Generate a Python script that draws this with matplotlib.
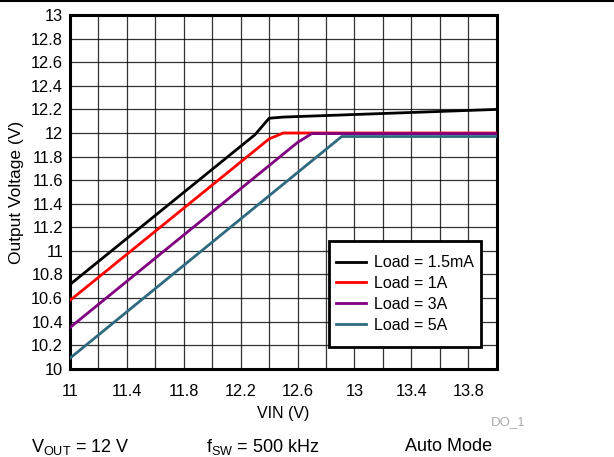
import matplotlib
matplotlib.use("Agg")
import matplotlib.pyplot as plt
from matplotlib.lines import Line2D
from matplotlib.patches import Rectangle

plt.rcParams['font.family'] = ['Liberation Sans', 'DejaVu Sans']

vin_15mA = [11.0, 12.3, 12.4, 12.5, 14.0]
vout_15mA = [10.715, 11.985, 12.125, 12.135, 12.20]
vin_1A = [11.0, 12.4, 12.5, 14.0]
vout_1A = [10.58, 11.95, 12.0, 12.0]
vin_3A = [11.0, 12.6, 12.7, 14.0]
vout_3A = [10.35, 11.92, 11.995, 11.995]
vin_5A = [11.0, 12.91, 14.0]
vout_5A = [10.09, 11.97, 11.97]

labels = ['Load = 1.5mA', 'Load = 1A', 'Load = 3A', 'Load = 5A']
colors = ['#000000', '#ff0000', '#800080', '#2e6a80']

xticks = [11, 11.4, 11.8, 12.2, 12.6, 13, 13.4, 13.8]
xtick_labels = ['11', '11.4', '11.8', '12.2', '12.6', '13', '13.4', '13.8']
yticks = [10, 10.2, 10.4, 10.6, 10.8, 11, 11.2, 11.4, 11.6, 11.8, 12, 12.2, 12.4, 12.6, 12.8, 13]
ytick_labels = ['10', '10.2', '10.4', '10.6', '10.8', '11', '11.2', '11.4', '11.6', '11.8', '12', '12.2', '12.4', '12.6', '12.8', '13']

fig = plt.figure(figsize=(6.14, 4.57), dpi=100)
ax = fig.add_axes([0.114, 0.193, 0.695, 0.774])

series = [(vin_15mA, vout_15mA), (vin_1A, vout_1A), (vin_3A, vout_3A), (vin_5A, vout_5A)]
for (x, y), c, lab in zip(series, colors, labels):
    ax.plot(x, y, color=c, lw=2, label=lab, zorder=3)

fs = 11.8
ax.set_xlim(11, 14)
ax.set_ylim(10, 13)
ax.set_xticks(xticks)
ax.set_xticklabels(xtick_labels)
ax.set_xticks([11.2 + 0.4 * i for i in range(7)], minor=True)
ax.set_yticks(yticks)
ax.set_yticklabels(ytick_labels)
ax.grid(True, which='both', color='#000000', lw=0.9, alpha=0.8)
ax.tick_params(which='both', length=0, labelsize=fs)
ax.tick_params(axis='x', pad=11)
ax.tick_params(axis='y', pad=5)
for s in ax.spines.values():
    s.set_linewidth(2.2)
ax.set_xlabel('VIN (V)', fontsize=11.5, labelpad=5)
ax.set_ylabel('Output Voltage (V)', fontsize=12.5, labelpad=5)

# legend frame drawn as a patch
ax.add_patch(Rectangle((0.6066, 0.062), 0.3559, 0.2996, transform=ax.transAxes,
                       facecolor='white', edgecolor='black', lw=2, zorder=4))
leg = ax.legend(loc='center', bbox_to_anchor=(0.7845, 0.2118), fontsize=11.5,
                frameon=False, handlelength=1.875, handletextpad=0.5,
                borderpad=0.0, labelspacing=0.36)
leg.set_zorder(5)

fig.add_artist(Line2D([0, 1], [0.998, 0.998], color='#000000', lw=1.5))
fig.text(0.799, 0.077, 'DO_1', color='#aaaaaa', fontsize=9.5, ha='left', va='center')
fig.text(0.05, 0.022, r'V$_{\mathregular{OUT}}$ = 12 V', fontsize=13, ha='left', va='center')
fig.text(0.335, 0.022, r'f$_{\mathregular{SW}}$ = 500 kHz', fontsize=13, ha='left', va='center')
fig.text(0.66, 0.022, 'Auto Mode', fontsize=13, ha='left', va='center')

fig.savefig('out.png', dpi=100)
